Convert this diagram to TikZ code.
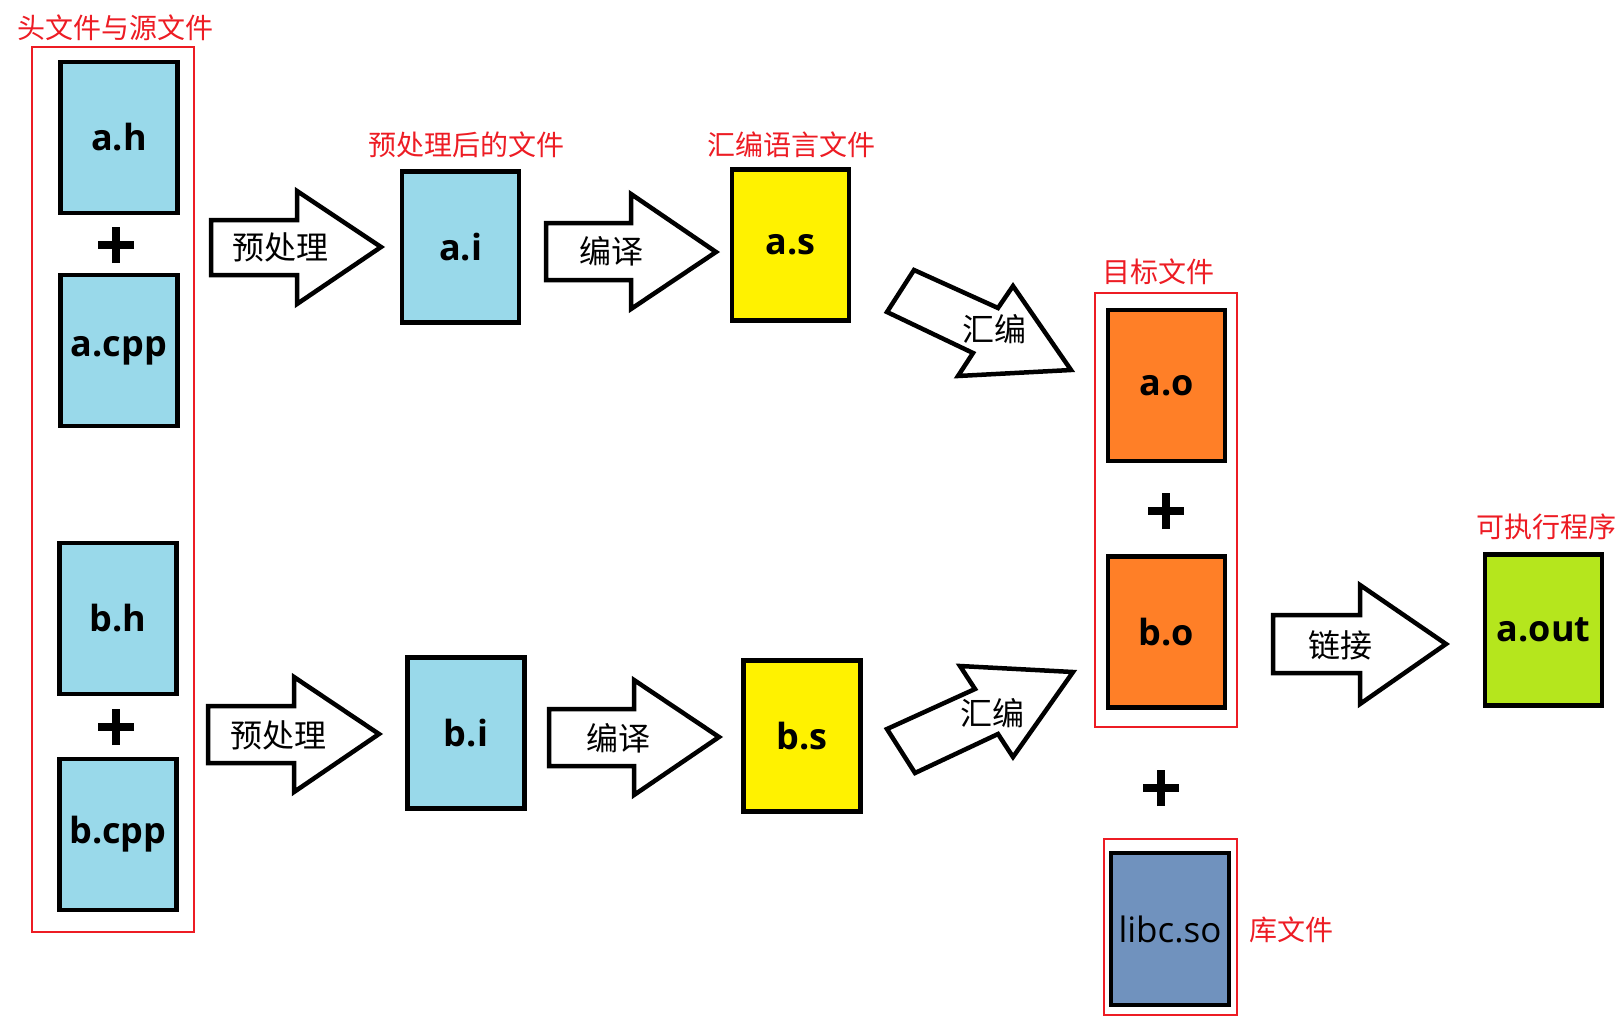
\documentclass[tikz,border=0pt]{standalone}
\usepackage{fontspec}
\setmainfont{Open Sans}
\newfontfamily\cjk{Noto Sans CJK SC}
\definecolor{lblue}{RGB}{153,217,234}
\definecolor{fyellow}{RGB}{255,242,0}
\definecolor{forange}{RGB}{255,127,39}
\definecolor{fgreen}{RGB}{181,230,29}
\definecolor{fsteel}{RGB}{112,146,190}
\definecolor{redline}{RGB}{237,28,36}
\begin{document}
\begin{tikzpicture}[x=1pt,y=-1pt,
  filebox/.style={draw=black, line width=4.5pt, minimum width=117pt, minimum height=151pt, inner sep=0pt, font=\fontsize{36}{42}\selectfont\bfseries},
  redframe/.style={draw=redline, line width=1.3pt},
  redlbl/.style={text=redline, font=\cjk\fontsize{28}{32}\selectfont, inner sep=0pt},
  blklbl/.style={font=\cjk\fontsize{32}{36}\selectfont, inner sep=0pt},
  blockarrow/.style={draw=black, line width=4.5pt, fill=white, line join=miter, miter limit=10},
  plusline/.style={line width=8pt, draw=black}
]
\useasboundingbox (0,0) rectangle (1624,1026);

% red frames
\draw[redframe] (32,47) rectangle (194,932);
\draw[redframe] (1095,293) rectangle (1237,727);
\draw[redframe] (1104,839) rectangle (1237,1015);

% red titles
\node[redlbl] (t1) at (115,28) {头文件与源文件};
\node[redlbl] (t2) at (466,145) {预处理后的文件};
\node[redlbl] (t3) at (791,145) {汇编语言文件};
\node[redlbl] (t4) at (1158,272) {目标文件};
\node[redlbl] (t5) at (1546,527) {可执行程序};
\node[redlbl] (t6) at (1291,930) {库文件};

% file boxes
\node[filebox, fill=lblue] (ah) at (119,137.5) {a.h};
\node[filebox, fill=lblue] (acpp) at (119,350.5) {a.cpp};
\node[filebox, fill=lblue] (bh) at (118,618.5) {b.h};
\node[filebox, fill=lblue] (bcpp) at (118,834.5) {b.cpp};
\node[filebox, fill=lblue] (ai) at (460.5,247) {a.i};
\node[filebox, fill=lblue] (bi) at (466,733) {b.i};
\node[filebox, fill=fyellow] (as) at (790.5,245) {a.s};
\node[filebox, fill=fyellow] (bs) at (802,736) {b.s};
\node[filebox, fill=forange] (ao) at (1166.5,385.5) {a.o};
\node[filebox, fill=forange] (bo) at (1166.5,632) {b.o};
\node[filebox, fill=fsteel, minimum width=118pt, minimum height=152pt, font=\fontsize{35}{40}\selectfont] (libc) at (1170,929) {libc.so};
\node[filebox, fill=fgreen] (aout) at (1543.5,630) {a.out};

% plus signs
\coordinate (p1) at (116,245);
\coordinate (p2) at (116,727);
\coordinate (p3) at (1166,511);
\coordinate (p4) at (1161,788);
\foreach \p in {p1,p2,p3,p4}{
  \draw[plusline] ([xshift=-18pt]\p) -- ([xshift=18pt]\p);
  \draw[plusline] ([yshift=-18pt]\p) -- ([yshift=18pt]\p);
}

% block arrows (horizontal)
\draw[blockarrow] (211,220) -- (297,220) -- (297,191) -- (381,247) -- (297,304) -- (297,275) -- (211,275) -- cycle;
\node[blklbl] (l1) at (280,247) {预处理};
\draw[blockarrow] (546,223) -- (631,223) -- (631,194) -- (716,252) -- (631,309) -- (631,280) -- (546,280) -- cycle;
\node[blklbl] (l2) at (611,251) {编译};
\draw[blockarrow] (208,706) -- (294,706) -- (294,677) -- (379,734) -- (294,792) -- (294,763) -- (208,763) -- cycle;
\node[blklbl] (l3) at (278,735) {预处理};
\draw[blockarrow] (549,709) -- (634,709) -- (634,680) -- (719,737) -- (634,795) -- (634,766) -- (549,766) -- cycle;
\node[blklbl] (l4) at (618,738) {编译};
\draw[blockarrow] (1273,615) -- (1360,615) -- (1360,585) -- (1446,644) -- (1360,704) -- (1360,673) -- (1273,673) -- cycle;
\node[blklbl] (l5) at (1340,645) {链接};

% diagonal block arrows
\draw[blockarrow] (914,270) -- (998,308) -- (1013,286) -- (1071,370) -- (958,376) -- (973,353) -- (887,312) -- cycle;
\node[blklbl] (l6) at (994,329) {汇编};
\draw[blockarrow] (887,729) -- (975,689) -- (960,666) -- (1073,672) -- (1013,757) -- (998,734) -- (915,773) -- cycle;
\node[blklbl] (l7) at (992,713) {汇编};
\end{tikzpicture}
\end{document}
